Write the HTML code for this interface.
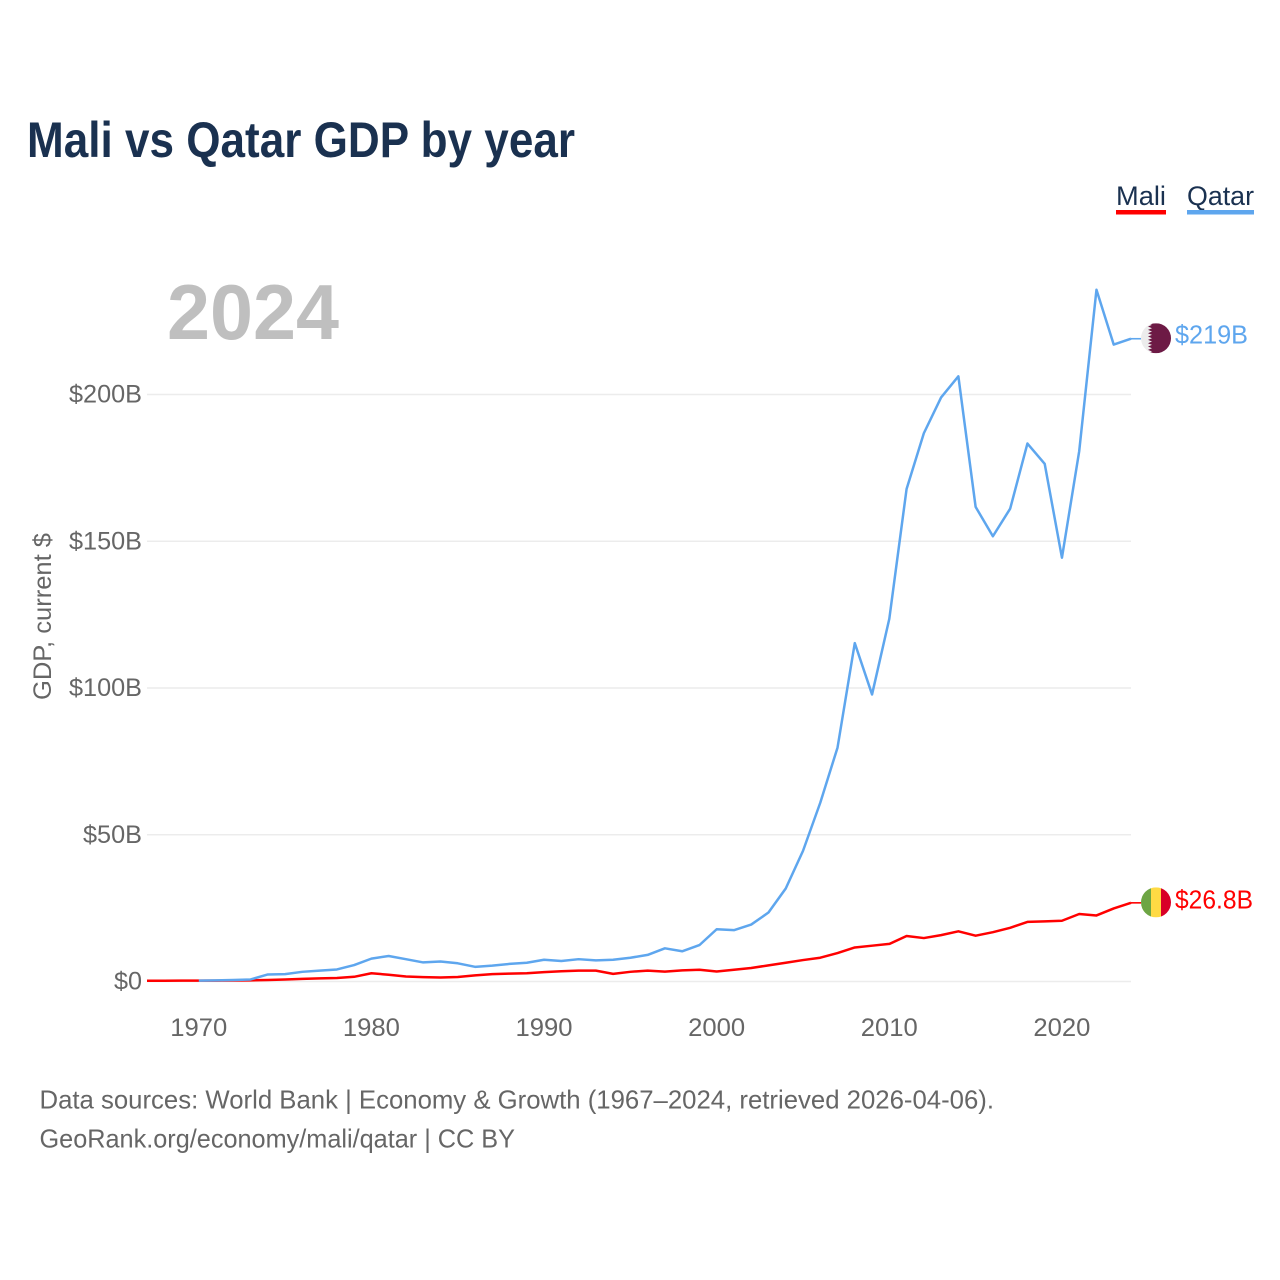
<!DOCTYPE html>
<html lang="en">
<head>
<meta charset="utf-8">
<title>Mali vs Qatar GDP by year</title>
<style>
html,body{margin:0;padding:0;background:#fff;}
svg{display:block;font-family:"Liberation Sans",sans-serif;}
</style>
</head>
<body>
<svg id="chart" xmlns="http://www.w3.org/2000/svg" width="1280" height="1280" viewBox="0 0 1280 1280">
  <rect width="1280" height="1280" fill="#fff"/>
  <text x="27" y="157" font-size="50" font-weight="700" fill="#1a3150" textLength="548" lengthAdjust="spacingAndGlyphs">Mali vs Qatar GDP by year</text>

  <g>
    <g>
      <text x="1116" y="205" font-size="27" fill="#1a3150" textLength="50" lengthAdjust="spacingAndGlyphs">Mali</text>
      <rect x="1116" y="210" width="50" height="4.5" fill="#ff0000"/>
    </g>
    <g>
      <text x="1187" y="205" font-size="27" fill="#1a3150" textLength="67" lengthAdjust="spacingAndGlyphs">Qatar</text>
      <rect x="1187" y="210" width="67" height="4.5" fill="#5ea6ee"/>
    </g>
  </g>

  <text x="167" y="339" font-size="78" font-weight="700" fill="#bfbfbf" textLength="172" lengthAdjust="spacingAndGlyphs">2024</text>
  <text transform="translate(51,700) rotate(-90)" font-size="25" fill="#666" textLength="167" lengthAdjust="spacingAndGlyphs">GDP, current $</text>

  <g id="grid"></g>
  <g id="yticks"></g>
  <g id="xticks"></g>
  <g id="series"></g>

  <defs>
    <clipPath id="flag-clip"><circle cx="15" cy="15" r="15"/></clipPath>
  </defs>
  <g id="flag-qatar">
    <g clip-path="url(#flag-clip)">
      <rect width="30" height="30" fill="#ececec"/>
      <polygon fill="#6d1a45" points="30,0 7,0 11,1.7 7,3.3 11,5 7,6.7 11,8.3 7,10 11,11.7 7,13.3 11,15 7,16.7 11,18.3 7,20 11,21.7 7,23.3 11,25 7,26.7 11,28.3 7,30 30,30"/>
    </g>
  </g>
  <g id="flag-mali">
    <g clip-path="url(#flag-clip)">
      <rect width="10" height="30" fill="#6da544"/>
      <rect x="10" width="10" height="30" fill="#ffda44"/>
      <rect x="20" width="10" height="30" fill="#d80027"/>
    </g>
  </g>
  <text id="label-qatar" x="1175" font-size="26" fill="#5ea6ee" textLength="73" lengthAdjust="spacingAndGlyphs">$219B</text>
  <text id="label-mali" x="1175" font-size="26" fill="#ff0000" textLength="78" lengthAdjust="spacingAndGlyphs">$26.8B</text>

  <text x="39.5" y="1108.5" font-size="26" fill="#666" textLength="954.5" lengthAdjust="spacingAndGlyphs">Data sources: World Bank | Economy &amp; Growth (1967–2024, retrieved 2026-04-06).</text>
  <text x="39.5" y="1147.5" font-size="26" fill="#666" textLength="475.5" lengthAdjust="spacingAndGlyphs">GeoRank.org/economy/mali/qatar | CC BY</text>
</svg>
<script>
const maliStartYear = 1967;
const maliValues = [0.25,0.27,0.28,0.3,0.3,0.35,0.4,0.5,0.7,0.9,1.05,1.2,1.6,2.8,2.3,1.7,1.5,1.35,1.55,2.1,2.5,2.7,2.8,3.2,3.5,3.7,3.7,2.6,3.3,3.7,3.35,3.8,4.0,3.4,4.0,4.6,5.5,6.4,7.3,8.1,9.7,11.6,12.2,12.8,15.5,14.8,15.8,17.1,15.6,16.8,18.3,20.3,20.5,20.7,23.0,22.5,24.9,26.8];
const qatarStartYear = 1970;
const qatarValues = [0.3,0.39,0.5,0.7,2.4,2.5,3.3,3.7,4.1,5.6,7.8,8.7,7.6,6.5,6.8,6.2,5.0,5.4,6.0,6.4,7.4,7.0,7.6,7.2,7.4,8.1,9.06,11.3,10.3,12.4,17.8,17.5,19.4,23.5,31.7,44.5,60.9,79.7,115.3,97.8,123.6,167.8,186.8,199.0,206.2,161.7,151.7,161.1,183.3,176.4,144.4,180.7,235.7,217.0,219.0];
const yTickValues = [0,50,100,150,200];
const yTickLabels = ["$0","$50B","$100B","$150B","$200B"];
const xTickValues = [1970,1980,1990,2000,2010,2020];

const NS = "http://www.w3.org/2000/svg";
const xScale = function (year) { return 147 + (year - 1967) * (1131 - 147) / 57; };
const yScale = function (value) { return 981.5 - value * 2.935; };

function make(tag, parentId, props) {
  const el = document.createElementNS(NS, tag);
  for (const k in props) el.setAttribute(k, props[k]);
  document.getElementById(parentId).appendChild(el);
  return el;
}

const yLabelWidths = {"$0":28,"$50B":59,"$100B":73,"$150B":73,"$200B":73};
yTickValues.forEach(function (v, i) {
  const line = make("line", "grid", {x1:147, x2:1131, y1:yScale(v), y2:yScale(v), stroke:"#ececec", "stroke-width":1.5});
  
  
  const t = make("text", "yticks", {x:142, y:yScale(v)+8, "text-anchor":"end", "font-size":25, fill:"#666", textLength:yLabelWidths[yTickLabels[i]], lengthAdjust:"spacingAndGlyphs"});
  t.textContent = yTickLabels[i];
  
  
});

xTickValues.forEach(function (yr) {
  const t = make("text", "xticks", {x:xScale(yr), y:1036, "text-anchor":"middle", "font-size":25, fill:"#666", textLength:57, lengthAdjust:"spacingAndGlyphs"});
  t.textContent = String(yr);
  
  
});

function pathFor(values, startYear) {
  return values.map(function (v, i) {
    return (i ? "L" : "M") + xScale(startYear + i).toFixed(2) + " " + yScale(v).toFixed(2);
  }).join(" ");
}

const maliLine = make("path", "series", {d:pathFor(maliValues, maliStartYear), fill:"none", stroke:"#ff0000", "stroke-width":2.5, "stroke-linejoin":"round"});


const qatarLine = make("path", "series", {d:pathFor(qatarValues, qatarStartYear), fill:"none", stroke:"#5ea6ee", "stroke-width":2.5, "stroke-linejoin":"round"});



const maliEnd = yScale(maliValues[maliValues.length - 1]);
const qatarEnd = yScale(qatarValues[qatarValues.length - 1]);
const maliLink = make("line", "series", {x1:1131, x2:1141, y1:maliEnd, y2:maliEnd, stroke:"#ff0000", "stroke-width":1.6});


const qatarLink = make("line", "series", {x1:1131, x2:1141, y1:qatarEnd, y2:qatarEnd, stroke:"#5ea6ee", "stroke-width":1.6});



document.getElementById("flag-qatar").setAttribute("transform", "translate(1141," + (qatarEnd - 15.5) + ")");
document.getElementById("flag-mali").setAttribute("transform", "translate(1141," + (maliEnd - 15.5) + ")");
document.getElementById("label-qatar").setAttribute("y", qatarEnd + 5);
document.getElementById("label-mali").setAttribute("y", maliEnd + 5.5);
</script>
</body>
</html>
